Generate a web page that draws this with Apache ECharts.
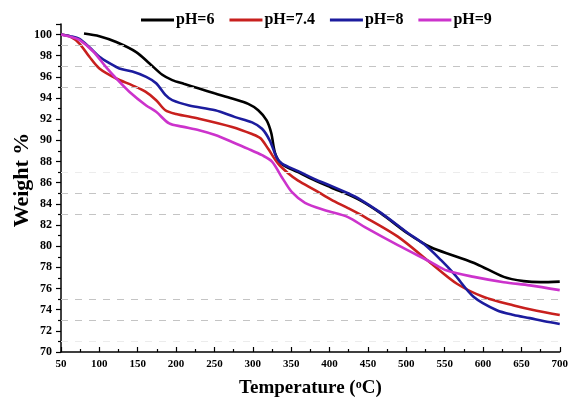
<!DOCTYPE html>
<html>
<head>
<meta charset="utf-8">
<script src="https://cdn.jsdelivr.net/npm/echarts@6/dist/echarts.min.js"></script>
<style>
  html, body { margin: 0; padding: 0; background: #fff; }
  #chart { width: 571px; height: 403px; }
</style>
</head>
<body>
<div id="chart"></div>
<script>
// TGA curves: weight loss vs temperature at four pH values
const seriesNames = ['pH=6', 'pH=7.4', 'pH=8', 'pH=9'];

const tempPH6 = [80, 100, 122, 148, 165, 182, 195, 210, 230, 250, 273, 294, 307, 318, 324, 329, 337, 359, 380, 402, 437, 467, 502, 532, 562, 592, 627, 653, 675, 700];
const weightPH6 = [100.1, 99.85, 99.3, 98.35, 97.3, 96.2, 95.7, 95.35, 94.9, 94.45, 93.95, 93.45, 92.85, 91.9, 90.7, 88.8, 87.8, 87.0, 86.25, 85.55, 84.45, 83.1, 81.2, 79.9, 79.1, 78.3, 77.1, 76.7, 76.6, 76.65];

const tempPH74 = [50, 62, 74, 87, 100, 122, 143, 160, 174, 186, 200, 230, 273, 299, 310, 320, 333, 346, 359, 381, 402, 424, 446, 489, 532, 566, 601, 640, 670, 700];
const weightPH74 = [100, 99.8, 99.15, 97.9, 96.8, 95.85, 95.2, 94.6, 93.8, 92.85, 92.5, 92.05, 91.27, 90.6, 90.2, 89.2, 87.8, 86.9, 86.2, 85.3, 84.4, 83.6, 82.75, 80.9, 78.4, 76.45, 75.2, 74.4, 73.9, 73.5];

const tempPH8 = [50, 62, 74, 87, 100, 113, 126, 143, 161, 174, 186, 195, 217, 251, 277, 299, 312, 322, 331, 338, 359, 380, 402, 424, 437, 467, 502, 523, 545, 562, 588, 618, 640, 661, 680, 700];
const weightPH8 = [100, 99.85, 99.6, 98.8, 97.9, 97.3, 96.8, 96.5, 96.0, 95.4, 94.3, 93.8, 93.3, 92.85, 92.2, 91.7, 91.1, 90.0, 88.4, 87.8, 87.1, 86.35, 85.7, 85.0, 84.55, 83.15, 81.25, 80.2, 78.7, 77.4, 75.2, 73.95, 73.5, 73.2, 72.9, 72.65];

const tempPH9 = [50, 62, 74, 92, 109, 122, 139, 161, 174, 191, 208, 230, 251, 273, 294, 312, 325, 338, 351, 368, 394, 424, 446, 489, 532, 553, 588, 627, 661, 700];
const weightPH9 = [100, 99.8, 99.5, 98.4, 96.9, 95.85, 94.6, 93.3, 92.7, 91.6, 91.3, 90.95, 90.5, 89.85, 89.2, 88.6, 88.0, 86.5, 85.1, 84.1, 83.4, 82.75, 81.8, 80.1, 78.5, 77.7, 77.1, 76.6, 76.3, 75.85];

// horizontal dashed guide lines (weight %)
const guideLines = [99, 97, 95, 85, 83, 75, 73];
const faintGuideLines = [87, 71];

const colors = ['#000000', '#c8201e', '#1c1c9e', '#cc33cc'];

const FONT = '"Liberation Serif", "Times New Roman", serif';

function pairs(xs, ys) {
  return xs.map((x, i) => [x, ys[i]]);
}

const curveData = [
  pairs(tempPH6, weightPH6),
  pairs(tempPH74, weightPH74),
  pairs(tempPH8, weightPH8),
  pairs(tempPH9, weightPH9)
];

const chart = echarts.init(document.getElementById('chart'), null, { renderer: 'canvas' });

const curveSeries = seriesNames.map((name, i) => ({
  name: name,
  type: 'line',
  data: curveData[i],
  showSymbol: false,
  smooth: 0.3,
  z: 3 + i,
  lineStyle: { color: colors[i], width: 2.6 },
  itemStyle: { color: colors[i] }
}));

const guideSeries = {
  type: 'line',
  data: [],
  silent: true,
  z: 1,
  markLine: {
    silent: true,
    symbol: 'none',
    label: { show: false },
    data: guideLines.map(v => ({ yAxis: v, lineStyle: { color: '#c4c4c4', type: [7, 7], width: 1 } }))
      .concat(faintGuideLines.map(v => ({ yAxis: v, lineStyle: { color: '#ececec', type: [7, 7], width: 1 } })))
  }
};

chart.setOption({
  animation: false,
  backgroundColor: '#ffffff',
  color: colors,
  grid: { left: 61, right: 8, top: 24, bottom: 51 },
  legend: {
    data: seriesNames,
    left: 136,
    top: 7,
    icon: 'rect',
    itemWidth: 33,
    itemHeight: 3,
    itemGap: 15,
    textStyle: { fontFamily: FONT, fontWeight: 'bold', fontSize: 16, color: '#000', padding: [0, 0, 0, -3] }
  },
  xAxis: {
    type: 'value',
    min: 50,
    max: 700,
    interval: 50,
    name: '{a|Temperature (}{s|o}{a|C)}',
    nameLocation: 'middle',
    nameGap: 27,
    nameTextStyle: {
      rich: {
        a: { fontFamily: FONT, fontWeight: 'bold', fontSize: 19, color: '#000' },
        s: { fontFamily: FONT, fontWeight: 'bold', fontSize: 12, color: '#000', verticalAlign: 'top' }
      }
    },
    axisLine: { show: true, onZero: false, lineStyle: { color: '#000', width: 1.5 } },
    axisTick: { show: true, inside: true, length: 5, lineStyle: { color: '#000', width: 1.2 } },
    minorTick: { show: true, splitNumber: 2, length: 3, lineStyle: { color: '#000', width: 1.2 } },
    axisLabel: { fontFamily: FONT, fontWeight: 'bold', fontSize: 11, color: '#000', margin: 7 },
    splitLine: { show: false }
  },
  yAxis: {
    type: 'value',
    min: 70,
    max: 101,
    interval: 2,
    axisLine: { show: true, onZero: false, lineStyle: { color: '#000', width: 1.5 } },
    axisTick: { show: true, inside: false, length: 5, lineStyle: { color: '#000', width: 1.2 } },
    minorTick: { show: true, splitNumber: 2, length: 3, lineStyle: { color: '#000', width: 1.2 } },
    axisLabel: {
      fontFamily: FONT, fontWeight: 'bold', fontSize: 12, color: '#000', margin: 9,
      formatter: v => (v % 2 === 0 ? String(v) : '')
    },
    splitLine: { show: false }
  },
  graphic: [{
    type: 'text',
    x: 22,
    y: 180,
    rotation: Math.PI / 2,
    style: {
      text: 'Weight %',
      fontFamily: FONT,
      fontWeight: 'bold',
      fontSize: 22,
      fill: '#000',
      textAlign: 'center',
      textVerticalAlign: 'middle'
    }
  }],
  series: [guideSeries].concat(curveSeries)
});
</script>
</body>
</html>
